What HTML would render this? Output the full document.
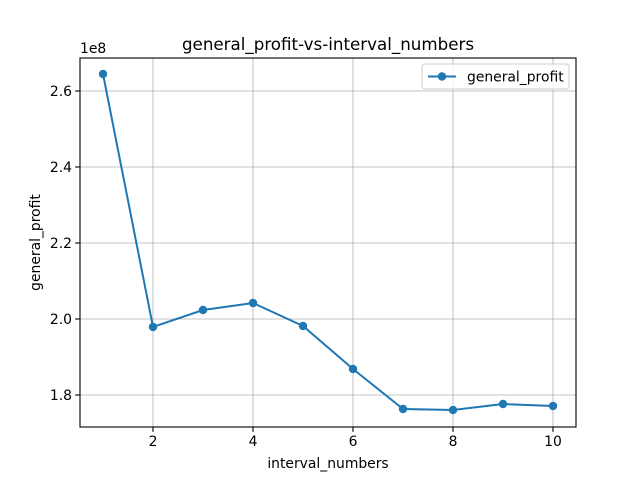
<!DOCTYPE html>
<html><head><meta charset="utf-8"><style>
body{margin:0;background:#fff;}
svg{display:block;font-family:"DejaVu Sans","Liberation Sans",sans-serif;}
</style></head><body>
<svg id="chart" width="640" height="480"></svg>
<script>
const categories=[1,2,3,4,5,6,7,8,9,10];
const profitValues=[2.6447,1.979,2.0237,2.0421,1.9816,1.8684,1.7632,1.7605,1.7763,1.771];
const xTickLabels=[2,4,6,8,10];
const yTickLabels=[1.8,2.0,2.2,2.4,2.6];
const L=80,R=576,T=58,B=427,xMin=0.54,xMax=10.46,yMin=1.7158,yMax=2.6868;
const NS="http://www.w3.org/2000/svg";
const svg=document.getElementById('chart');
const FS=13.9;
function sx(v){return L+(v-xMin)/(xMax-xMin)*(R-L);}
function sy(v){return B-(v-yMin)/(yMax-yMin)*(B-T);}
function mk(tag,attrs,parent){const e=document.createElementNS(NS,tag);for(const k in attrs)e.setAttribute(k,attrs[k]);(parent||svg).appendChild(e);return e;}
const bg=mk('rect',{x:0,y:0,width:640,height:480,fill:'#fff'});


xTickLabels.forEach(v=>{const x=sx(v);
 const g=mk('line',{x1:x,x2:x,y1:T,y2:B,stroke:'#b0b0b0','stroke-width':0.8});
 
 
 mk('line',{x1:x,x2:x,y1:B,y2:B+4.9,stroke:'#000','stroke-width':1.1});
 const t=mk('text',{x:x,y:B+19,'text-anchor':'middle','font-size':FS,fill:'#000'});t.textContent=v;
 
 
});
yTickLabels.forEach(v=>{const y=sy(v);
 const g=mk('line',{x1:L,x2:R,y1:y,y2:y,stroke:'#b0b0b0','stroke-width':0.8});
 
 
 mk('line',{x1:L-4.9,x2:L,y1:y,y2:y,stroke:'#000','stroke-width':1.1});
 const t=mk('text',{x:L-8,y:y+5,'text-anchor':'end','font-size':FS,fill:'#000'});t.textContent=v.toFixed(1);
 
 
});
const frame=mk('rect',{x:L,y:T,width:R-L,height:B-T,fill:'none',stroke:'#000','stroke-width':1.1});


const pts=categories.map((c,i)=>sx(c)+','+sy(profitValues[i])).join(' ');
const line=mk('polyline',{points:pts,fill:'none',stroke:'#1f77b4','stroke-width':2});


categories.forEach((c,i)=>{const p=mk('circle',{cx:sx(c),cy:sy(profitValues[i]),r:4.2,fill:'#1f77b4'});
 
 
});
function txt(s,attrs,name){const t=mk('text',attrs);t.textContent=s;
 
 return t;}
txt('1e8',{x:L,y:T-5,'font-size':FS,fill:'#000'},'y-offset-label');
txt('general_profit-vs-interval_numbers',{x:(L+R)/2,y:T-8,'text-anchor':'middle','font-size':16.7,fill:'#000'},'chart-title');
txt('interval_numbers',{x:(L+R)/2,y:468,'text-anchor':'middle','font-size':FS,fill:'#000'},'x-axis-title');
txt('general_profit',{x:0,y:0,'text-anchor':'middle','font-size':FS,fill:'#000',transform:`translate(40,${(T+B)/2}) rotate(-90)`},'y-axis-title');
const lg=mk('g',{});


mk('rect',{x:422,y:64,width:147,height:25,rx:3,fill:'#fff','fill-opacity':0.8,stroke:'#ccc','stroke-width':1},lg);
mk('line',{x1:428,x2:456,y1:76.5,y2:76.5,stroke:'#1f77b4','stroke-width':2},lg);
mk('circle',{cx:442,cy:76.5,r:4.2,fill:'#1f77b4'},lg);
const lt=mk('text',{x:467,y:81.5,'font-size':FS,fill:'#000'},lg);lt.textContent='general_profit';


</script>
</body></html>
